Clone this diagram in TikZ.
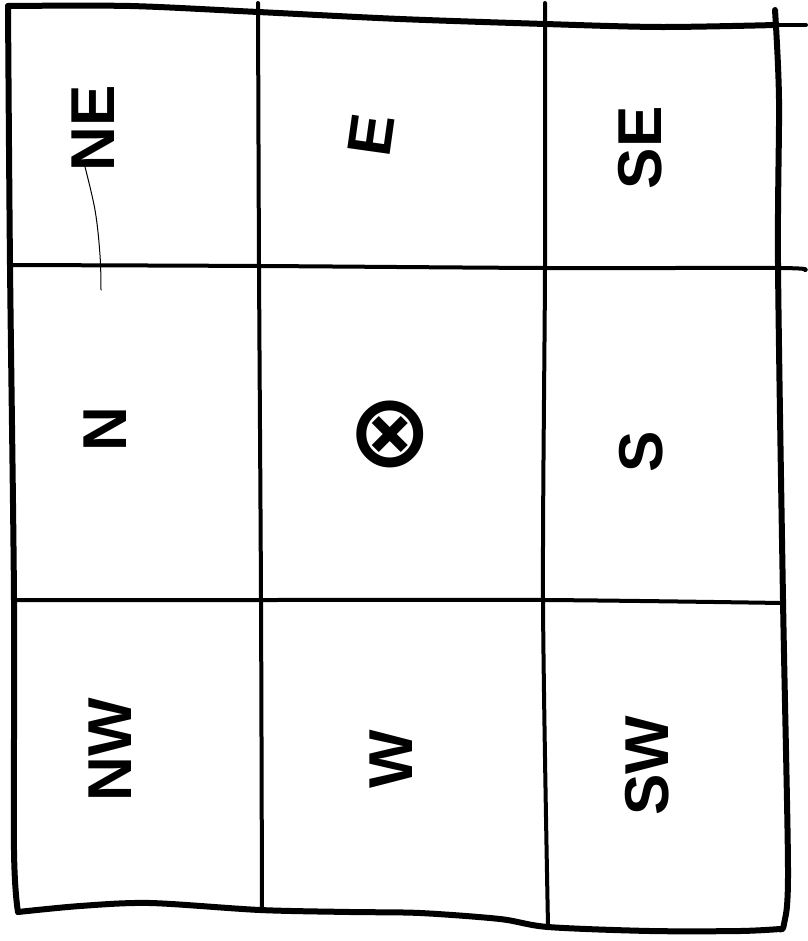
\documentclass[tikz,border=0pt]{standalone}
\usepackage{fontspec}
\setmainfont{Liberation Sans}
\newfontfamily\symfont{DejaVu Sans}
\begin{document}
\begin{tikzpicture}[x=1pt,y=-1pt,line cap=round,line join=round,
  border/.style={line width=6pt},
  inner/.style={line width=4pt},
  thinline/.style={line width=1pt},
  lbl/.style={rotate=90,font=\bfseries\fontsize{62}{62}\selectfont,inner sep=0pt},
  sym/.style={font=\symfont\bfseries\fontsize{102}{102}\selectfont,inner sep=0pt}]
\useasboundingbox (0,0) rectangle (807,941);
% outer border
\draw[border] plot[smooth,tension=0.5] coordinates {(8,6) (130,6) (258,12) (400,19) (545,24) (660,27) (776,25)};
\draw[inner] (776,25) -- (806,25);
\draw[border] plot[smooth,tension=0.5] coordinates {(8,6) (10,265) (14,600) (14,850) (18,912)};
\draw[border] plot[smooth,tension=0.5] coordinates {(18,912) (80,906) (150,903) (260,910) (350,912) (420,913) (500,919) (548,927) (650,931) (740,931) (780,929)};
\draw[border] plot[smooth,tension=0.5] coordinates {(775,10) (779,100) (778,265) (783,600) (788,870) (784,924) (780,929)};
% inner lines
\draw[inner] plot[smooth,tension=0.5] coordinates {(258,3) (259,265) (261,600) (262,911)};
\draw[inner] plot[smooth,tension=0.5] coordinates {(545,3) (545,265) (543,600) (548,926)};
\draw[inner] plot[smooth,tension=0.5] coordinates {(10,265) (260,266) (545,268) (778,268) (805,270)};
\draw[inner] plot[smooth,tension=0.5] coordinates {(13,600) (260,600) (543,600) (782,603)};
% labels
\node[lbl] (ne) at (93,128) {NE};
\node[lbl,rotate=-8] (e) at (371,135) {E};
\node[lbl] (se) at (640,148) {SE};
\node[lbl] (n) at (105,429) {N};
\node[sym] (c) at (390,434) {⊗};
\node[lbl] (s) at (641,452) {S};
\node[lbl] (nw) at (110,750) {NW};
\node[lbl] (w) at (391,759) {W};
\node[lbl] (sw) at (647,766) {SW};
% thin stray line
\draw[thinline] plot[smooth,tension=0.6] coordinates {(84,163) (95,210) (100,255) (101,290)};
\end{tikzpicture}
\end{document}
